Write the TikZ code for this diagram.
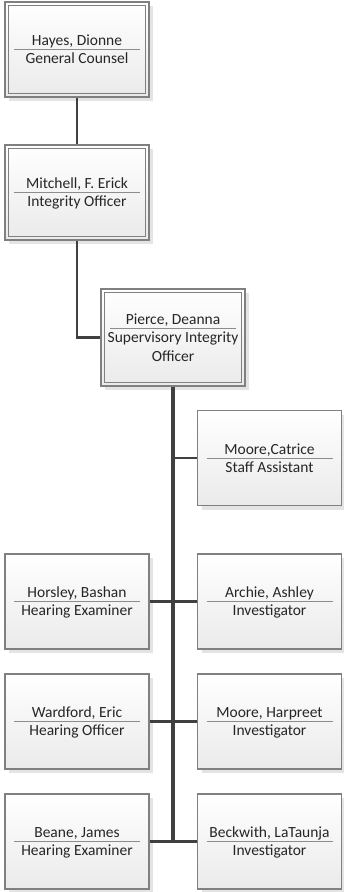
\documentclass[tikz,border=0pt]{standalone}
\usepackage{fontspec}
\setmainfont{Carlito}
\usetikzlibrary{shadows}
\definecolor{linegray}{HTML}{404040}
\definecolor{edgegray}{HTML}{808080}
\definecolor{rulegray}{HTML}{8C8C8C}
\definecolor{shadegray}{HTML}{E4E4E4}
\definecolor{fillgray}{HTML}{EAEAEA}
\definecolor{inkgray}{HTML}{262626}
\newcommand{\cardtext}[2]{%
  \makebox[0pt]{\raisebox{4pt}[0pt][0pt]{#1}}%
  \makebox[0pt]{\color{rulegray}\rule[-0.5pt]{126pt}{1pt}}%
  \makebox[0pt]{\raisebox{-14pt}[0pt][0pt]{\begin{tabular}[t]{@{}c@{}}#2\end{tabular}}}}
\begin{document}
\begin{tikzpicture}[x=1pt,y=-1pt,
  card/.style={draw=edgegray, line width=1.2pt, top color=white, bottom color=fillgray,
    minimum width=144pt, minimum height=95pt, inner sep=0pt, text=inkgray,
    font=\fontsize{15.5}{19}\selectfont,
    drop shadow={shadow xshift=4pt, shadow yshift=-4pt, fill=shadegray, opacity=1}},
  inset/.style={draw=edgegray, line width=1.2pt},
  link/.style={draw=linegray, line width=2.8pt},
  trunk/.style={draw=linegray, line width=3.6pt}]
\useasboundingbox (0,0) rectangle (344,892);
\node[card] (hayes) at (77,49.5) {\cardtext{Hayes, Dionne}{General Counsel}};
\node[card] (mitchell) at (77,192.5) {\cardtext{Mitchell, F. Erick}{Integrity Officer}};
\node[card, minimum height=97pt] (pierce) at (173,337.5) {\raisebox{9.5pt}[0pt][0pt]{\cardtext{Pierce, Deanna}{Supervisory Integrity\\Officer}}};
\foreach \n in {hayes,mitchell,pierce}
  \draw[inset] ([shift={(4pt,-4pt)}]\n.north west) rectangle ([shift={(-4pt,4pt)}]\n.south east);
\node[card] (catrice) at (269.5,458) {\cardtext{Moore,Catrice}{Staff Assistant}};
\node[card] (horsley) at (77,601.5) {\cardtext{Horsley, Bashan}{Hearing Examiner}};
\node[card] (archie) at (269.5,601.5) {\cardtext{Archie, Ashley}{Investigator}};
\node[card] (wardford) at (77,721.5) {\cardtext{Wardford, Eric}{Hearing Officer}};
\node[card] (harpreet) at (269.5,721.5) {\cardtext{Moore, Harpreet}{Investigator}};
\node[card] (beane) at (77,841.5) {\cardtext{Beane, James}{Hearing Examiner}};
\node[card] (beckwith) at (269.5,841.5) {\cardtext{Beckwith, LaTaunja}{Investigator}};
\draw[link] (hayes.south) -- (mitchell.north);
\draw[link] (mitchell.south) |- (pierce.west);
\draw[link] (catrice.west) -- (catrice.west -| pierce.south);
\draw[link] (horsley.east) -- (archie.west);
\draw[link] (wardford.east) -- (harpreet.west);
\draw[link] (beane.east) -- (beckwith.west);
\draw[trunk] (pierce.south) -- (pierce.south |- beane.east);
\end{tikzpicture}
\end{document}
